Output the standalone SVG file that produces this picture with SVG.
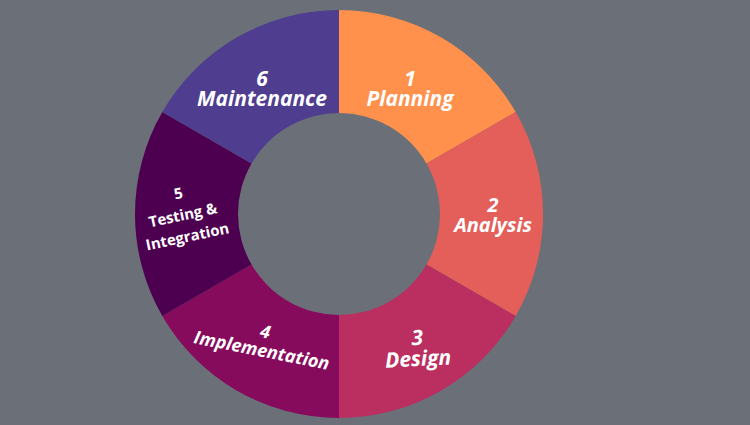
<svg xmlns="http://www.w3.org/2000/svg" width="750" height="425" viewBox="0 0 750 425">
<style>
.lbl{font-family:"Open Sans","Liberation Sans",sans-serif;font-weight:700;font-style:italic;fill:#ffffff;text-anchor:middle}
.up{font-style:normal}
</style>
<rect x="0" y="0" width="750" height="425" fill="#6b6f78"/>
<g id="connectors"></g>
<g id="seg1">
<path d="M339,10 A204,204 0 0 1 515.67,112 L426.47,163.5 A101,101 0 0 0 339,113 Z" fill="#ff914d"/>
<text class="lbl" font-size="21" x="410" y="86">1</text>
<text class="lbl" font-size="21" x="410" y="106">Planning</text>
</g>
<g id="seg2">
<path d="M515.67,112 A204,204 0 0 1 515.67,316 L426.47,264.5 A101,101 0 0 0 426.47,163.5 Z" fill="#e45f5a"/>
<text class="lbl" font-size="20" x="493" y="212">2</text>
<text class="lbl" font-size="20" x="493" y="232">Analysis</text>
</g>
<g id="seg3">
<path d="M515.67,316 A204,204 0 0 1 339,418 L339,315 A101,101 0 0 0 426.47,264.5 Z" fill="#ba2f5f"/>
<g transform="translate(418.5,366) rotate(-3)">
<text class="lbl" font-size="21" x="0" y="-21">3</text>
<text class="lbl" font-size="21" x="0" y="0">Design</text>
</g>
</g>
<g id="seg4">
<path d="M339,418 A204,204 0 0 1 162.33,316 L251.53,264.5 A101,101 0 0 0 339,315 Z" fill="#870b5d"/>
<g transform="translate(260.5,356.5) rotate(11.3)">
<text class="lbl" font-size="18" x="0" y="-19">4</text>
<text class="lbl" font-size="18" x="0" y="0">Implementation</text>
</g>
</g>
<g id="seg5">
<path d="M162.33,316 A204,204 0 0 1 162.33,112 L251.53,163.5 A101,101 0 0 0 251.53,264.5 Z" fill="#4e0050"/>
<g transform="translate(188.5,241.7) rotate(-12)">
<text class="lbl up" font-size="15" x="0" y="-44">5</text>
<text class="lbl up" font-size="15" x="0" y="-22">Testing &amp;</text>
<text class="lbl up" font-size="15" x="0" y="0">Integration</text>
</g>
</g>
<g id="seg6">
<path d="M162.33,112 A204,204 0 0 1 339,10 L339,113 A101,101 0 0 0 251.53,163.5 Z" fill="#4f3d8f"/>
<text class="lbl" font-size="21" x="262" y="86">6</text>
<text class="lbl" font-size="21" x="262" y="106">Maintenance</text>
</g>
</svg>
